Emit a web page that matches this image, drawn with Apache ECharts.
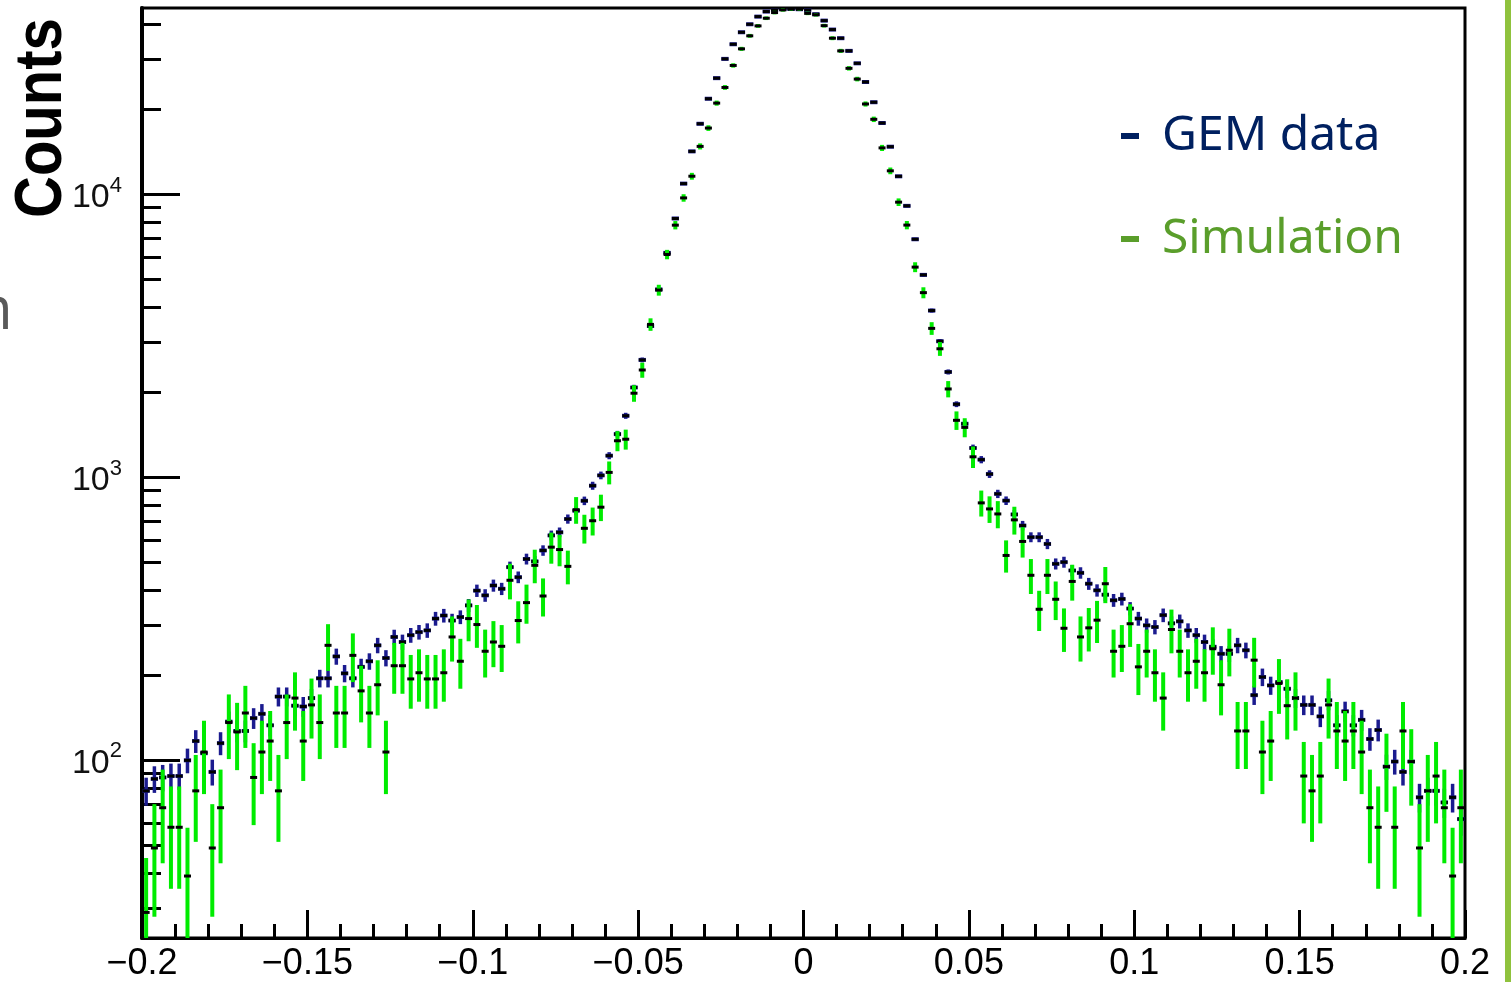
<!DOCTYPE html>
<html>
<head>
<meta charset="utf-8">
<title>GEM data vs Simulation</title>
<script src="https://cdn.jsdelivr.net/npm/echarts@6/dist/echarts.min.js"></script>
<style>
  html, body { margin: 0; padding: 0; background: #fff; }
  #chart { width: 1511px; height: 982px; }
</style>
</head>
<body>
<div id="chart"></div>
<script>
// histogram binning: 160 bins from -0.2 to 0.2
const X_MIN = -0.2;
const X_MAX = 0.2;
const N_BINS = 160;
const BIN_W = (X_MAX - X_MIN) / N_BINS;

const Y_MIN = 23.55;
const Y_MAX = 45650;

const X_TICK_LABELS = {
  '-0.2': '\u22120.2', '-0.15': '\u22120.15', '-0.1': '\u22120.1', '-0.05': '\u22120.05',
  '0': '0', '0.05': '0.05', '0.1': '0.1', '0.15': '0.15', '0.2': '0.2'
};
const Y_MAJOR = [100, 1000, 10000];
const Y_MINOR = [30, 40, 50, 60, 70, 80, 90, 200, 300, 400, 500, 600, 700, 800, 900,
  2000, 3000, 4000, 5000, 6000, 7000, 8000, 9000, 20000, 30000, 40000];

// counts per bin
const GEM_COUNTS = [
  78, 86, 87, 88, 88, 100, 117, 106, 91, 115, 137, 127, 127, 141, 146, 133, 168, 168, 156, 155,
  166, 195, 195, 233, 203, 195, 214, 224, 255, 230, 273, 262, 277, 284, 288, 317, 325, 312, 321, 353,
  398, 383, 415, 404, 482, 444, 515, 505, 552, 624, 640, 713, 763, 827, 935, 1017, 1194, 1423, 1652, 2080,
  2603, 3430, 4620, 6220, 8230, 10930, 14210, 17790, 21810, 25790, 30170, 33990, 37470, 39990, 42560, 44350, 45000, 45300, 45300, 45200,
  44950, 43400, 41200, 38300, 35700, 32200, 29100, 25000, 21200, 17900, 14760, 11600, 9120, 6950, 5200, 3890, 3030, 2360, 1815, 1548,
  1271, 1156, 1028, 875, 828, 740, 676, 615, 615, 582, 495, 502, 469, 460, 421, 399, 385, 368, 372, 344,
  317, 300, 296, 326, 305, 310, 288, 277, 262, 252, 238, 238, 255, 245, 170, 197, 184, 189, 179, 166,
  157, 157, 143, 163, 133, 149, 133, 139, 119, 128, 95, 99, 91, 99, 74, 78, 78, 71, 74, 62
];
const SIM_COUNTS = [
  29, 49, 68, 58, 58, 39, 78, 107, 49, 68, 136, 126, 147, 87, 107, 117, 78, 136, 166, 117,
  157, 136, 255, 147, 147, 235, 176, 147, 185, 107, 216, 216, 194, 204, 194, 194, 204, 273, 224, 317,
  302, 243, 262, 253, 433, 312, 361, 489, 381, 567, 556, 485, 769, 661, 703, 785, 1042, 1348, 1365, 1985,
  2398, 3475, 4595, 6140, 7795, 9730, 11610, 14800, 17180, 21050, 23910, 28600, 32740, 36400, 39460, 42000, 43980, 44950, 45300, 45300,
  43700, 43200, 39540, 35700, 32200, 27940, 25600, 20900, 18450, 14620, 12130, 9400, 7800, 5540, 4500, 3365, 2850, 2055, 1592, 1503,
  1183, 813, 774, 743, 530, 708, 594, 451, 342, 451, 371, 293, 429, 273, 294, 313, 421, 243, 253, 304,
  214, 243, 204, 166, 290, 243, 204, 224, 204, 248, 185, 245, 127, 127, 226, 107, 117, 187, 156, 166,
  88, 78, 88, 157, 127, 117, 127, 107, 68, 58, 95, 58, 127, 99, 49, 78, 88, 68, 39, 68
];
// simulation was scaled up, so its poisson errors are larger
const SIM_WEIGHT = 9;

const GEM_COLOR = '#1b1b8f';
const SIM_COLOR = '#00ec00';

function toPoints(counts, weight) {
  return counts.map((v, i) => [X_MIN + BIN_W * (i + 0.5), v, Math.sqrt(v * weight)]);
}

// ROOT style "E" drawing: vertical error, bin width bar, small black marker
function errorBar(color, withWidthBar, errWidth) {
  return function (params, api) {
    const x = api.value(0);
    const y = api.value(1);
    const err = api.value(2);
    const top = api.coord([x, y + err]);
    const bot = api.coord([x, Math.max(y - err, Y_MIN / 4)]);
    const c = api.coord([x, y]);
    const l = api.coord([x - BIN_W / 2, y]);
    const r = api.coord([x + BIN_W / 2, y]);
    const children = [{
      type: 'line',
      shape: { x1: c[0], y1: top[1], x2: c[0], y2: bot[1] },
      style: { stroke: color, lineWidth: errWidth }
    }];
    if (withWidthBar) {
      children.push({
        type: 'line',
        shape: { x1: l[0] + 0.5, y1: c[1], x2: r[0] - 0.5, y2: c[1] },
        style: { stroke: color, lineWidth: 4 }
      });
    }
    children.push({
      type: 'rect',
      shape: { x: c[0] - 3.5, y: c[1] - 1.5, width: 7, height: 3 },
      style: { fill: '#000' }
    });
    return { type: 'group', children: children };
  };
}

const chart = echarts.init(document.getElementById('chart'));

const option = {
  animation: false,
  backgroundColor: '#fff',
  grid: {
    left: 142, right: 46, top: 8, bottom: 42,
    show: true, borderColor: '#000', borderWidth: 3, backgroundColor: '#fff'
  },
  xAxis: {
    type: 'value',
    min: X_MIN,
    max: X_MAX,
    interval: 0.05,
    axisLine: { onZero: false, lineStyle: { color: '#000', width: 3 } },
    axisTick: { inside: true, length: 28, lineStyle: { color: '#000', width: 3 } },
    minorTick: { show: true, splitNumber: 5, length: 14, lineStyle: { color: '#000', width: 3 } },
    splitLine: { show: false },
    axisLabel: {
      margin: 8,
      color: '#000',
      fontFamily: 'Liberation Sans',
      fontSize: 36,
      formatter: v => X_TICK_LABELS[String(Math.round(v * 100) / 100)] || ''
    }
  },
  yAxis: [
    {
      type: 'log',
      position: 'left',
      min: Y_MIN,
      max: Y_MAX,
      axisLine: { onZero: false, lineStyle: { color: '#000', width: 4 } },
      axisTick: { inside: true, length: 38, customValues: Y_MAJOR, lineStyle: { color: '#000', width: 3 } },
      minorTick: { show: false },
      splitLine: { show: false },
      axisLabel: {
        margin: 20,
        customValues: Y_MAJOR,
        formatter: v => '{a|10}{b|' + Math.round(Math.log10(v)) + '}',
        rich: {
          a: { fontFamily: 'Liberation Sans', fontSize: 34, color: '#111', lineHeight: 40, verticalAlign: 'bottom' },
          b: { fontFamily: 'Liberation Sans', fontSize: 22, color: '#111', lineHeight: 40, verticalAlign: 'top' }
        }
      }
    },
    {
      type: 'log',
      position: 'left',
      min: Y_MIN,
      max: Y_MAX,
      axisLine: { show: false, onZero: false },
      axisTick: { inside: true, length: 19, customValues: Y_MINOR, lineStyle: { color: '#000', width: 3 } },
      axisLabel: { show: false },
      splitLine: { show: false }
    }
  ],
  legend: {
    orient: 'vertical',
    left: 1116,
    top: 107,
    icon: 'rect',
    itemWidth: 18,
    itemGap: 55,
    itemHeight: 6,
    textStyle: { fontFamily: 'Noto Sans', fontSize: 48, padding: [0, 0, 0, 18] },
    data: [
      { name: 'GEM data', itemStyle: { color: '#002060' }, textStyle: { color: '#002060' } },
      { name: 'Simulation', itemStyle: { color: '#5a9e2b' }, textStyle: { color: '#5a9e2b' } }
    ]
  },
  graphic: [
    {
      type: 'text', x: 76, y: 218, rotation: Math.PI / 2, scaleY: 1.15,
      style: { text: 'Counts', font: 'bold 58px "Liberation Sans"', fill: '#000', textAlign: 'left', textVerticalAlign: 'bottom' }
    },
    {
      type: 'text', x: -24, y: 282,
      style: { text: 'n', font: '60px "Open Sans"', fill: '#595959', textVerticalAlign: 'top' }
    },
    {
      type: 'rect', right: 0, top: 0,
      shape: { width: 6, height: 982 },
      style: { fill: '#8fc23d' }
    }
  ],
  series: [
    {
      name: 'GEM data',
      type: 'custom',
      yAxisIndex: 0,
      clip: true,
      itemStyle: { color: GEM_COLOR },
      renderItem: errorBar(GEM_COLOR, true, 3.5),
      encode: { x: 0, y: 1 },
      data: toPoints(GEM_COUNTS, 1)
    },
    {
      name: 'Simulation',
      type: 'custom',
      yAxisIndex: 0,
      clip: true,
      itemStyle: { color: SIM_COLOR },
      renderItem: errorBar(SIM_COLOR, false, 4),
      encode: { x: 0, y: 1 },
      data: toPoints(SIM_COUNTS, SIM_WEIGHT)
    }
  ]
};

chart.setOption(option);
</script>
</body>
</html>
